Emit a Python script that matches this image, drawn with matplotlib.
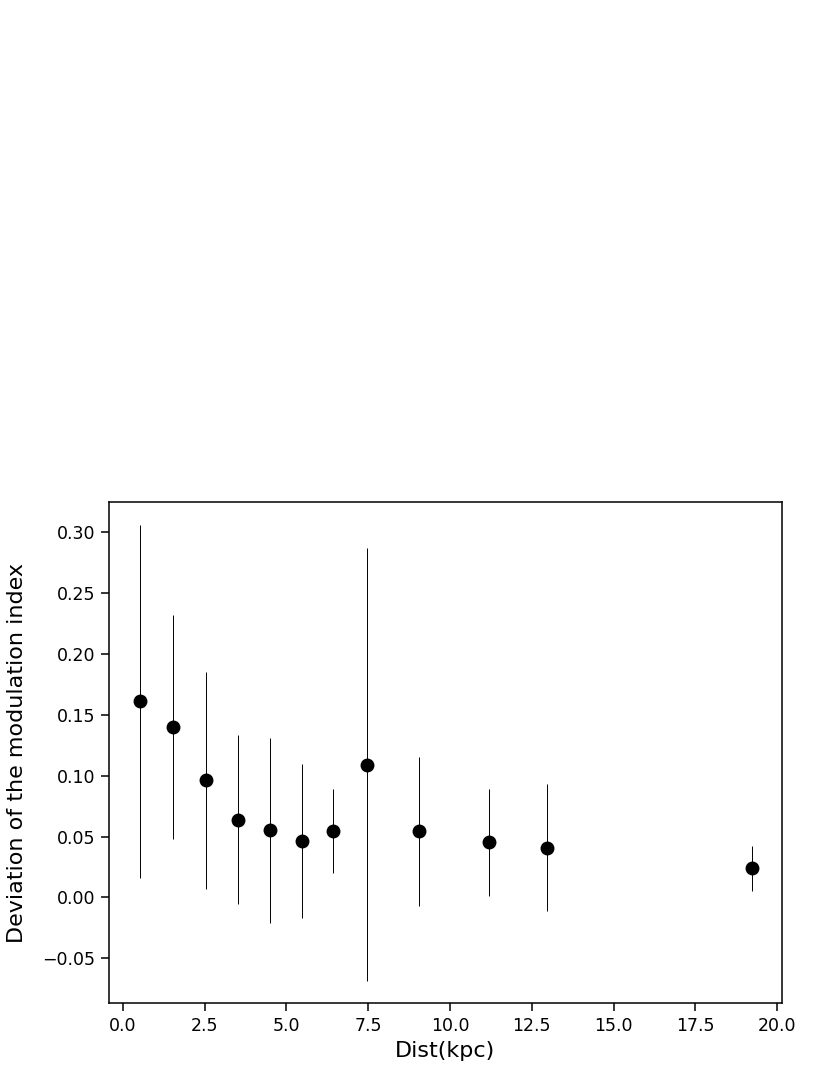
import matplotlib
matplotlib.use("Agg")
import matplotlib.pyplot as plt

dist = [0.54, 1.54, 2.53, 3.53, 4.49, 5.47, 6.44, 7.48, 9.07, 11.18, 12.96, 19.23]
deviation = [0.161, 0.140, 0.0963, 0.064, 0.0553, 0.0462, 0.0542, 0.109, 0.0542, 0.0452, 0.0408, 0.0241]
errors = [0.145, 0.092, 0.089, 0.069, 0.076, 0.063, 0.0345, 0.178, 0.061, 0.044, 0.052, 0.0185]

fig = plt.figure(figsize=(8.3, 10.75), dpi=100)
ax = fig.add_axes([0.1313, 0.0667, 0.9418 - 0.1313, 0.5328 - 0.0667])
ax.errorbar(dist, deviation, yerr=errors, fmt='o', color='black', markersize=9,
            ecolor='black', elinewidth=0.7, capsize=0)
ax.set_xlim(-0.42, 20.14)
ax.set_ylim(-0.0869, 0.3245)
ax.set_xticks([0.0, 2.5, 5.0, 7.5, 10.0, 12.5, 15.0, 17.5, 20.0])
ax.set_yticks([-0.05, 0.0, 0.05, 0.10, 0.15, 0.20, 0.25, 0.30])
ax.set_xlabel('Dist(kpc)', fontsize=16, labelpad=4)
ax.set_ylabel('Deviation of the modulation index', fontsize=16, labelpad=11)
ax.tick_params(labelsize=12.5, length=5.5, width=1.1, pad=4.5)
for s in ax.spines.values():
    s.set_linewidth(1.1)
fig.savefig('out.png', dpi=100)
